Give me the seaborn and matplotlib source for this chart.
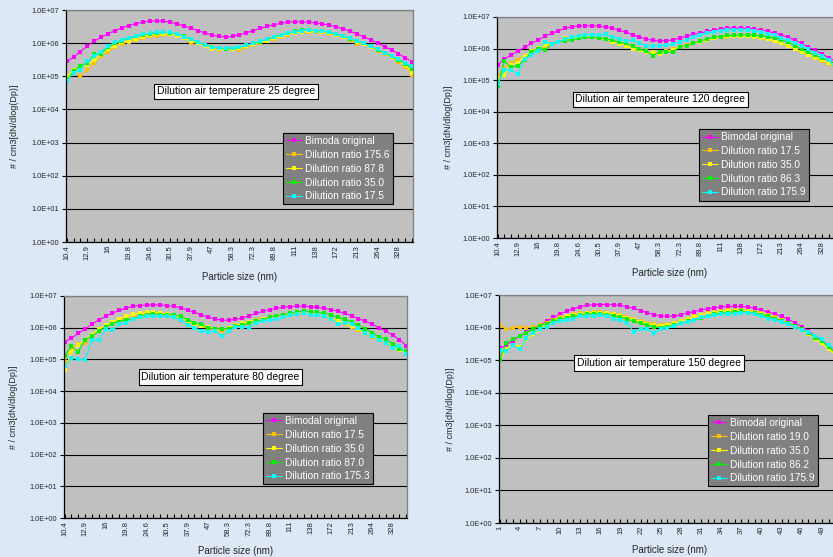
"""Particle size distributions of a bimodal aerosol after dilution, four dilution air temperatures."""

import matplotlib
matplotlib.use("Agg")
from matplotlib import pyplot as plt
from matplotlib.lines import Line2D
from matplotlib.ticker import FuncFormatter, FixedLocator
import seaborn as sns
import pandas as pd

# x tick labels (every third size channel)
size_ticks = ['10.4', '12.9', '16', '19.8', '24.6', '30.5', '37.9', '47', '58.3',
              '72.3', '89.8', '111', '138', '172', '213', '264', '328']
number_ticks = ['1', '4', '7', '10', '13', '16', '19', '22', '25', '28', '31',
                '34', '37', '40', '43', '46', '49']

# ---- 25 degree ----
tl_names = ['Bimoda original', 'Dilution ratio 175.6', 'Dilution ratio 87.8',
            'Dilution ratio 35.0', 'Dilution ratio 17.5']
tl_orig = [2.8e5, 3.8e5, 5.6e5, 8.3e5, 1.15e6, 1.5e6, 1.95e6, 2.4e6, 2.9e6, 3.4e6,
           3.9e6, 4.3e6, 4.6e6, 4.7e6, 4.6e6, 4.3e6, 3.8e6, 3.3e6, 2.8e6, 2.4e6,
           2.0e6, 1.75e6, 1.6e6, 1.55e6, 1.6e6, 1.8e6, 2.05e6, 2.4e6, 2.8e6, 3.2e6,
           3.6e6, 4.0e6, 4.3e6, 4.4e6, 4.4e6, 4.3e6, 4.1e6, 3.8e6, 3.5e6, 3.1e6,
           2.7e6, 2.3e6, 1.9e6, 1.55e6, 1.26e6, 1.0e6, 7.9e5, 6.2e5, 4.8e5, 3.6e5, 2.75e5]
tl_r175_6 = [9.0e4, 1.3e5, 1.05e5, 1.5e5, 2.5e5, 4.0e5, 5.6e5, 7.5e5, 9.5e5, 1.1e6,
             1.25e6, 1.45e6, 1.6e6, 1.7e6, 1.8e6, 1.85e6, 1.7e6, 1.5e6, 1.0e6, 1.05e6,
             9.0e5, 8.0e5, 6.3e5, 7.0e5, 6.6e5, 6.2e5, 7.5e5, 9.0e5, 1.0e6, 1.15e6,
             1.35e6, 1.55e6, 1.8e6, 2.0e6, 2.15e6, 2.2e6, 2.2e6, 2.1e6, 1.95e6, 1.75e6,
             1.5e6, 1.25e6, 9.5e5, 1.0e6, 7.6e5, 6.0e5, 4.8e5, 3.7e5, 2.7e5, 1.9e5, 1.1e5]
tl_r87_8 = [1.0e5, 1.5e5, 1.8e5, 2.2e5, 3.0e5, 4.6e5, 6.5e5, 8.5e5, 1.05e6, 1.2e6,
            1.35e6, 1.55e6, 1.75e6, 1.85e6, 1.95e6, 1.9e6, 1.7e6, 1.45e6, 1.2e6, 1.0e6,
            8.3e5, 6.5e5, 6.8e5, 6.5e5, 6.5e5, 7.2e5, 8.3e5, 9.4e5, 1.05e6, 1.2e6,
            1.4e6, 1.6e6, 1.85e6, 2.05e6, 2.2e6, 2.3e6, 2.25e6, 2.15e6, 2.0e6, 1.8e6,
            1.55e6, 1.3e6, 1.1e6, 9.5e5, 7.8e5, 6.2e5, 4.9e5, 3.9e5, 3.0e5, 2.2e5, 1.3e5]
tl_r35_0 = [8.0e4, 1.4e5, 2.1e5, 2.6e5, 4.7e5, 4.8e5, 7.6e5, 1.0e6, 1.2e6, 1.4e6,
            1.6e6, 1.8e6, 1.95e6, 2.05e6, 2.1e6, 2.05e6, 1.85e6, 1.6e6, 1.3e6, 1.05e6,
            8.8e5, 7.7e5, 7.0e5, 6.9e5, 7.0e5, 7.6e5, 8.6e5, 9.8e5, 1.12e6, 1.3e6,
            1.5e6, 1.75e6, 2.0e6, 2.25e6, 2.5e6, 2.45e6, 2.4e6, 2.3e6, 2.1e6, 1.9e6,
            1.62e6, 1.35e6, 1.15e6, 9.8e5, 8.0e5, 6.3e5, 5.0e5, 4.0e5, 3.1e5, 2.4e5, 1.65e5]
tl_r17_5 = [7.1e4, 1.3e5, 1.6e5, 2.8e5, 4.0e5, 5.6e5, 8.3e5, 1.05e6, 1.26e6, 1.45e6,
            1.66e6, 1.86e6, 2.0e6, 2.1e6, 2.15e6, 2.1e6, 1.86e6, 1.58e6, 1.32e6, 1.07e6,
            8.9e5, 7.8e5, 7.2e5, 7.1e5, 7.2e5, 7.8e5, 8.7e5, 1.0e6, 1.15e6, 1.35e6,
            1.55e6, 1.78e6, 2.0e6, 2.2e6, 2.35e6, 2.45e6, 2.4e6, 2.3e6, 2.15e6, 1.9e6,
            1.66e6, 1.4e6, 1.2e6, 1.0e6, 8.1e5, 6.5e5, 5.1e5, 4.1e5, 3.3e5, 2.6e5, 2.0e5]

# ---- 120 degree ----
tr_names = ['Bimodal original', 'Dilution ratio 17.5', 'Dilution ratio 35.0',
            'Dilution ratio 86.3', 'Dilution ratio 175.9']
tr_orig = [3.0e5, 4.7e5, 6.2e5, 8.1e5, 1.1e6, 1.46e6, 1.86e6, 2.45e6, 3.0e6, 3.7e6,
           4.4e6, 4.9e6, 5.2e6, 5.3e6, 5.3e6, 5.2e6, 4.8e6, 4.4e6, 3.8e6, 3.3e6,
           2.75e6, 2.3e6, 2.0e6, 1.82e6, 1.74e6, 1.78e6, 1.9e6, 2.15e6, 2.45e6, 2.8e6,
           3.1e6, 3.5e6, 3.9e6, 4.2e6, 4.4e6, 4.5e6, 4.5e6, 4.4e6, 4.2e6, 3.9e6,
           3.5e6, 3.1e6, 2.7e6, 2.25e6, 1.85e6, 1.45e6, 1.12e6, 8.8e5, 6.8e5, 5.2e5, 3.9e5]
tr_r17_5 = [1.4e5, 2.5e5, 3.6e5, 4.5e5, 6.0e5, 8.0e5, 1.0e6, 1.2e6, 1.4e6, 1.6e6,
            1.8e6, 2.0e6, 2.2e6, 2.3e6, 2.3e6, 2.2e6, 2.0e6, 1.75e6, 1.5e6, 1.25e6,
            1.05e6, 9.0e5, 8.0e5, 7.0e5, 7.5e5, 8.5e5, 9.5e5, 1.1e6, 1.3e6, 1.5e6,
            1.7e6, 1.9e6, 2.1e6, 2.3e6, 2.4e6, 2.5e6, 2.5e6, 2.45e6, 2.3e6, 2.15e6,
            1.95e6, 1.7e6, 1.45e6, 1.2e6, 9.5e5, 7.6e5, 6.2e5, 5.0e5, 4.0e5, 3.3e5, 2.6e5]
tr_r35_0 = [1.2e5, 1.5e5, 3.0e5, 3.6e5, 5.9e5, 8.5e5, 1.05e6, 1.3e6, 1.4e6, 1.65e6,
            2.1e6, 2.0e6, 2.25e6, 2.4e6, 2.35e6, 2.1e6, 1.95e6, 1.66e6, 1.4e6, 1.25e6,
            1.0e6, 9.0e5, 7.6e5, 7.6e5, 6.8e5, 7.9e5, 9.0e5, 1.15e6, 1.25e6, 1.5e6,
            1.66e6, 1.9e6, 2.1e6, 2.25e6, 2.45e6, 2.45e6, 2.5e6, 2.45e6, 2.35e6, 2.2e6,
            2.0e6, 1.78e6, 1.5e6, 1.23e6, 1.0e6, 8.0e5, 6.3e5, 5.2e5, 4.3e5, 3.6e5, 2.7e5]
tr_r86_3 = [6.6e4, 4.0e5, 2.6e5, 2.8e5, 4.5e5, 7.6e5, 1.0e6, 9.0e5, 1.35e6, 1.65e6,
            1.8e6, 1.9e6, 2.1e6, 2.25e6, 2.3e6, 2.2e6, 2.0e6, 1.82e6, 1.6e6, 1.45e6,
            1.2e6, 9.5e5, 8.5e5, 6.0e5, 8.0e5, 7.9e5, 7.6e5, 1.15e6, 1.25e6, 1.5e6,
            1.75e6, 2.0e6, 2.25e6, 2.4e6, 2.6e6, 2.65e6, 2.7e6, 2.7e6, 2.65e6, 2.55e6,
            2.4e6, 2.2e6, 1.9e6, 1.58e6, 1.23e6, 9.6e5, 7.6e5, 6.2e5, 5.0e5, 4.2e5, 3.3e5]
tr_r175_9 = [7.4e4, 2.1e5, 2.1e5, 1.55e5, 4.7e5, 6.2e5, 8.5e5, 1.66e6, 1.38e6, 1.66e6,
             2.0e6, 2.25e6, 2.45e6, 2.7e6, 2.75e6, 2.6e6, 2.8e6, 2.4e6, 2.0e6, 1.74e6,
             1.82e6, 1.5e6, 1.23e6, 1.17e6, 1.23e6, 1.29e6, 1.38e6, 1.66e6, 1.9e6, 2.25e6,
             2.7e6, 3.1e6, 3.4e6, 3.7e6, 3.9e6, 4.0e6, 4.0e6, 3.9e6, 3.6e6, 3.3e6,
             2.95e6, 2.6e6, 2.15e6, 1.82e6, 1.5e6, 1.2e6, 9.5e5, 7.4e5, 5.8e5, 4.3e5, 2.3e5]

# ---- 80 degree ----
bl_names = ['Bimodal original', 'Dilution ratio 17.5', 'Dilution ratio 35.0',
            'Dilution ratio 87.0', 'Dilution ratio 175.3']
bl_orig = [3.5e5, 4.75e5, 6.6e5, 9.3e5, 1.28e6, 1.77e6, 2.26e6, 2.9e6, 3.5e6, 4.2e6,
           4.7e6, 5.0e6, 5.2e6, 5.3e6, 5.2e6, 5.0e6, 4.7e6, 4.2e6, 3.6e6, 3.05e6,
           2.55e6, 2.15e6, 1.86e6, 1.73e6, 1.73e6, 1.82e6, 2.05e6, 2.37e6, 2.83e6, 3.3e6,
           3.7e6, 4.1e6, 4.4e6, 4.65e6, 4.75e6, 4.75e6, 4.65e6, 4.4e6, 4.1e6, 3.7e6,
           3.3e6, 2.83e6, 2.37e6, 1.95e6, 1.6e6, 1.28e6, 1.0e6, 7.8e5, 5.8e5, 4.2e5, 2.7e5]
bl_r17_5 = [8.4e4, 2.3e5, 3.1e5, 3.3e5, 5.4e5, 8.8e5, 1.13e6, 1.45e6, 1.77e6, 2.05e6,
            2.38e6, 2.6e6, 2.75e6, 2.83e6, 2.75e6, 2.6e6, 2.38e6, 2.05e6, 1.6e6, 1.31e6,
            1.13e6, 9.3e5, 8.8e5, 7.8e5, 9.3e5, 1.13e6, 1.35e6, 1.56e6, 1.73e6, 1.95e6,
            2.15e6, 2.38e6, 2.55e6, 2.75e6, 2.9e6, 2.9e6, 2.75e6, 2.55e6, 2.26e6, 1.95e6,
            1.6e6, 1.31e6, 1.08e6, 8.4e5, 6.6e5, 5.1e5, 4.0e5, 3.3e5, 2.7e5, 2.1e5, 1.7e5]
bl_r35_0 = [4.5e4, 1.75e5, 2.9e5, 4.2e5, 6.1e5, 9.3e5, 1.19e6, 1.52e6, 1.95e6, 2.26e6,
            2.7e6, 2.9e6, 3.05e6, 3.05e6, 2.9e6, 2.75e6, 2.5e6, 2.1e6, 1.64e6, 1.35e6,
            1.13e6, 1.08e6, 9.3e5, 8.8e5, 1.0e6, 1.19e6, 1.38e6, 1.52e6, 1.64e6, 1.86e6,
            2.1e6, 2.38e6, 2.5e6, 2.7e6, 2.9e6, 2.9e6, 2.75e6, 2.55e6, 2.26e6, 1.95e6,
            1.64e6, 1.38e6, 1.13e6, 8.8e5, 6.9e5, 5.4e5, 4.2e5, 3.3e5, 2.55e5, 2.0e5, 1.65e5]
bl_r87_0 = [1.3e5, 2.6e5, 1.75e5, 4.2e5, 5.4e5, 7.8e5, 1.05e6, 1.35e6, 1.56e6, 1.77e6,
            1.95e6, 2.26e6, 2.5e6, 2.7e6, 2.6e6, 2.55e6, 2.5e6, 2.26e6, 1.77e6, 1.38e6,
            1.28e6, 1.0e6, 9.3e5, 9.3e5, 9.3e5, 1.13e6, 1.19e6, 1.38e6, 1.64e6, 1.77e6,
            2.1e6, 2.38e6, 2.6e6, 2.83e6, 3.05e6, 3.35e6, 3.2e6, 3.05e6, 2.83e6, 2.55e6,
            2.1e6, 1.86e6, 1.52e6, 1.19e6, 9.3e5, 6.9e5, 5.1e5, 4.4e5, 3.1e5, 2.1e5, 1.9e5]
bl_r175_3 = [6.1e4, 1.08e5, 1.02e5, 9.5e4, 4.2e5, 4.0e5, 8.8e5, 8.4e5, 1.28e6, 1.45e6,
             1.86e6, 2.1e6, 2.26e6, 2.38e6, 2.26e6, 2.26e6, 2.1e6, 1.77e6, 1.19e6, 1.0e6,
             7.8e5, 7.2e5, 7.8e5, 5.4e5, 7.8e5, 1.08e6, 1.08e6, 1.0e6, 1.45e6, 1.64e6,
             1.77e6, 1.86e6, 2.1e6, 2.55e6, 2.7e6, 2.83e6, 2.6e6, 2.5e6, 2.26e6, 1.86e6,
             1.35e6, 1.45e6, 1.28e6, 1.0e6, 6.9e5, 5.4e5, 4.2e5, 3.3e5, 2.3e5, 2.7e5, 1.5e5]

# ---- 150 degree ----
br_names = ['Bimodal original', 'Dilution ratio 19.0', 'Dilution ratio 35.0',
            'Dilution ratio 86.2', 'Dilution ratio 175.9']
br_orig = [2.3e5, 2.9e5, 4.0e5, 5.5e5, 7.2e5, 9.3e5, 1.2e6, 1.57e6, 2.05e6, 2.6e6,
           3.2e6, 3.8e6, 4.35e6, 4.8e6, 5.0e6, 5.1e6, 5.1e6, 5.0e6, 4.8e6, 4.35e6,
           3.9e6, 3.35e6, 2.9e6, 2.5e6, 2.25e6, 2.2e6, 2.25e6, 2.5e6, 2.8e6, 3.1e6,
           3.5e6, 3.8e6, 4.05e6, 4.3e6, 4.45e6, 4.5e6, 4.45e6, 4.3e6, 3.9e6, 3.4e6,
           3.0e6, 2.6e6, 2.2e6, 1.8e6, 1.4e6, 1.08e6, 7.8e5, 5.6e5, 4.1e5, 2.9e5, 2.1e5]
br_r19_0 = [1.18e6, 8.9e5, 1.0e6, 1.07e6, 1.0e6, 1.07e6, 1.18e6, 1.43e6, 1.73e6, 2.05e6,
            2.3e6, 2.6e6, 2.8e6, 2.9e6, 3.05e6, 3.05e6, 2.9e6, 2.7e6, 2.4e6, 2.1e6,
            1.8e6, 1.57e6, 1.43e6, 1.27e6, 1.18e6, 1.27e6, 1.43e6, 1.65e6, 1.9e6, 2.2e6,
            2.45e6, 2.8e6, 3.05e6, 3.3e6, 3.45e6, 3.5e6, 3.5e6, 3.35e6, 3.1e6, 2.8e6,
            2.4e6, 2.05e6, 1.73e6, 1.43e6, 1.13e6, 8.9e5, 6.7e5, 4.9e5, 3.6e5, 2.25e5, 1.7e5]
br_r35_0 = [1.05e5, 2.15e5, 3.0e5, 2.6e5, 4.4e5, 6.2e5, 8.9e5, 1.27e6, 1.6e6, 1.9e6,
            2.2e6, 2.4e6, 2.6e6, 2.8e6, 2.9e6, 2.9e6, 2.8e6, 2.6e6, 2.3e6, 2.0e6,
            1.73e6, 1.5e6, 1.33e6, 1.21e6, 1.13e6, 1.21e6, 1.36e6, 1.57e6, 1.8e6, 2.1e6,
            2.4e6, 2.7e6, 2.9e6, 3.1e6, 3.3e6, 3.35e6, 3.35e6, 3.2e6, 2.9e6, 2.6e6,
            2.2e6, 1.9e6, 1.6e6, 1.33e6, 1.07e6, 8.5e5, 6.2e5, 4.6e5, 3.3e5, 2.15e5, 1.5e5]
br_r86_2 = [1.0e5, 3.45e5, 4.4e5, 5.5e5, 7.0e5, 8.9e5, 1.13e6, 1.33e6, 1.6e6, 1.8e6,
            2.0e6, 2.2e6, 2.4e6, 2.6e6, 2.65e6, 2.7e6, 2.5e6, 2.3e6, 2.1e6, 1.8e6,
            1.6e6, 1.36e6, 1.18e6, 1.07e6, 1.0e6, 1.07e6, 1.18e6, 1.36e6, 1.57e6, 1.73e6,
            2.0e6, 2.3e6, 2.6e6, 2.8e6, 2.9e6, 3.05e6, 3.2e6, 2.9e6, 2.8e6, 2.5e6,
            2.2e6, 1.9e6, 1.6e6, 1.36e6, 1.13e6, 8.9e5, 6.7e5, 4.9e5, 3.9e5, 2.6e5, 1.7e5]
br_r175_9 = [2.05e5, 1.9e5, 2.85e5, 2.15e5, 4.9e5, 7.0e5, 9.3e5, 1.07e6, 1.43e6, 1.57e6,
             1.73e6, 1.9e6, 2.3e6, 2.2e6, 2.3e6, 2.4e6, 2.2e6, 1.9e6, 1.73e6, 1.43e6,
             7.3e5, 9.3e5, 8.9e5, 6.7e5, 9.3e5, 1.0e6, 1.13e6, 1.36e6, 1.5e6, 1.73e6,
             2.05e6, 2.2e6, 2.4e6, 2.6e6, 2.65e6, 2.7e6, 2.9e6, 2.9e6, 2.6e6, 2.2e6,
             1.9e6, 1.73e6, 1.5e6, 1.27e6, 1.07e6, 8.5e5, 7.3e5, 5.5e5, 4.4e5, 2.85e5, 2.15e5]

line_colors = ['#ff00ff', '#ffc000', '#ffff00', '#00f000', '#00ffff']

sns.set_theme(style='white')
plt.rcParams['font.family'] = ['Liberation Sans', 'DejaVu Sans']

fig = plt.figure(figsize=(8.33, 5.57), dpi=100)
fig.patch.set_facecolor('#dce8f6')


def draw_panel(rect, names, series, tick_labels, note, leg_anchor, note_xy,
               ylab_x, xlab_xy):
    ax = fig.add_axes(rect)
    ax.set_facecolor('#c0c0c0')

    rows = []
    for name, vals in zip(names, series):
        for i, v in enumerate(vals):
            rows.append((i, v, name))
    df = pd.DataFrame(rows, columns=['channel', 'conc', 'series'])

    sns.lineplot(data=df, x='channel', y='conc', hue='series', hue_order=names,
                 palette=line_colors, marker='s', markersize=2.2,
                 markeredgewidth=0, linewidth=0.8, estimator=None,
                 legend=False, ax=ax)

    ax.set_yscale('log')
    ax.set_ylim(1, 1e7)
    ax.yaxis.set_major_locator(FixedLocator([10.0 ** k for k in range(8)]))
    ax.yaxis.set_minor_locator(FixedLocator([]))
    ax.yaxis.set_major_formatter(FuncFormatter(lambda v, p: '%.1E' % v))
    ax.grid(axis='y', color='black', linewidth=0.8)
    ax.grid(axis='x', visible=False)

    n = len(series[0])
    ax.set_xlim(-0.1, n - 0.9)
    ax.set_xticks(range(0, 3 * len(tick_labels), 3))
    ax.set_xticklabels(tick_labels, rotation=90, fontsize=5.5)
    ax.set_xticks(range(n), minor=True)
    ax.tick_params(axis='x', which='both', direction='in', length=3,
                   width=0.8, color='black', pad=2, bottom=True)
    ax.tick_params(axis='y', direction='out', length=3, width=0.8,
                   color='black', labelsize=5.3, pad=2, left=True)

    for side in ('left', 'bottom'):
        ax.spines[side].set_color('black')
        ax.spines[side].set_linewidth(0.9)
    for side in ('top', 'right'):
        ax.spines[side].set_color('#808080')
        ax.spines[side].set_linewidth(0.9)

    ax.set_xlabel('Particle size (nm)', fontsize=7)
    ax.set_ylabel('# / cm3[dN/dlog(Dp)]', fontsize=6.5)
    ax.xaxis.set_label_coords(*xlab_xy)
    ax.yaxis.set_label_coords(ylab_x, 0.5)

    handles = [Line2D([], [], color=c, marker='s', markersize=2.4,
                      markeredgewidth=0, linewidth=0.8) for c in line_colors]
    leg = ax.legend(handles, names, loc='upper left', bbox_to_anchor=leg_anchor,
                    frameon=True, facecolor='#808080', edgecolor='black',
                    framealpha=1, fancybox=False, fontsize=7.3, labelcolor='white',
                    handlelength=1.6, handletextpad=0.3, borderpad=0.3,
                    labelspacing=0.38, borderaxespad=0)
    leg.get_frame().set_linewidth(0.8)

    ax.text(note_xy[0], note_xy[1], note, transform=ax.transAxes, ha='center',
            va='center', fontsize=7.5, color='black',
            bbox=dict(boxstyle='square,pad=0.25', facecolor='white',
                      edgecolor='black', linewidth=0.8))
    return ax


draw_panel([0.0792, 0.5655, 0.4166, 0.4165], tl_names,
           [tl_orig, tl_r175_6, tl_r87_8, tl_r35_0, tl_r17_5], size_ticks,
           'Dilution air temperature 25 degree', (0.625, 0.47), (0.49, 0.649),
           -0.135, (0.50, -0.129))
draw_panel([0.5966, 0.5727, 0.407, 0.3968], tr_names,
           [tr_orig, tr_r17_5, tr_r35_0, tr_r86_3, tr_r175_9], size_ticks,
           'Dilution air temperateure 120 degree', (0.596, 0.493), (0.482, 0.627),
           -0.13, (0.51, -0.136))
draw_panel([0.0768, 0.07, 0.4118, 0.3986], bl_names,
           [bl_orig, bl_r17_5, bl_r35_0, bl_r87_0, bl_r175_3], size_ticks,
           'Dilution air temperature 80 degree', (0.58, 0.473), (0.456, 0.635),
           -0.134, (0.50, -0.125))
draw_panel([0.599, 0.061, 0.4046, 0.4093], br_names,
           [br_orig, br_r19_0, br_r35_0, br_r86_2, br_r175_9], number_ticks,
           'Dilution air temperature 150 degree', (0.62, 0.474), (0.475, 0.702),
           -0.13, (0.507, -0.096))

fig.savefig('out.png', dpi=100, facecolor=fig.get_facecolor())
